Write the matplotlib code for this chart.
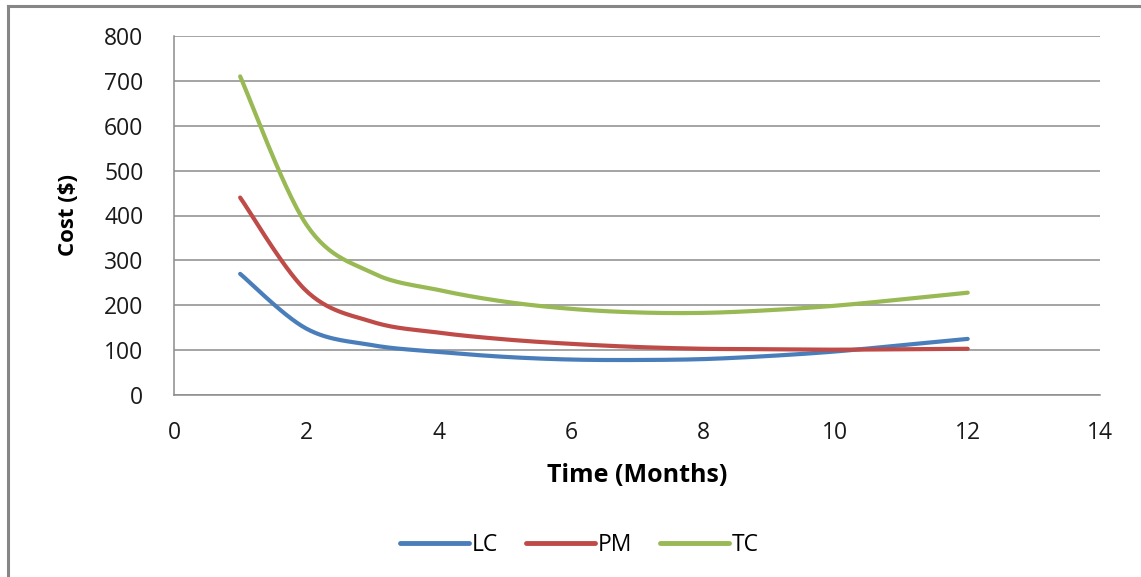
import numpy as np
import matplotlib
matplotlib.use('Agg')
import matplotlib.pyplot as plt
from matplotlib.lines import Line2D

plt.rcParams['font.family'] = ['Open Sans', 'DejaVu Sans']

months = [1, 2, 3, 4, 5, 6, 7, 8, 9, 10, 11, 12]
lc = [270, 148, 111, 96, 85, 79, 78, 80, 87, 97, 111, 125]
pm = [440, 232, 163, 139, 124, 114, 107, 103, 102, 101, 102, 103]
tc = [710, 380, 272, 234, 208, 192, 184, 183, 189, 199, 213, 228]

series_names = ['LC', 'PM', 'TC']
series_colors = ['#4A7EBB', '#BE4B48', '#98B954']


def smooth(xs, ys, steps=30):
    # bezier smoothing through every point, like spreadsheet "smoothed line"
    x = np.asarray(xs, float)
    y = np.asarray(ys, float)
    px = np.concatenate([[x[0]], x, [x[-1]]])
    py = np.concatenate([[y[0]], y, [y[-1]]])
    out_x, out_y = [], []
    t = np.linspace(0, 1, steps)
    for i in range(1, len(x)):
        p0 = np.array([px[i], py[i]])
        p3 = np.array([px[i + 1], py[i + 1]])
        c1 = p0 + (p3 - np.array([px[i - 1], py[i - 1]])) / 6
        c2 = p3 - (np.array([px[i + 2], py[i + 2]]) - p0) / 6
        pts = ((1 - t)[:, None] ** 3 * p0 + 3 * ((1 - t) ** 2 * t)[:, None] * c1
               + 3 * ((1 - t) * t ** 2)[:, None] * c2 + (t ** 3)[:, None] * p3)
        out_x.extend(pts[:, 0])
        out_y.extend(pts[:, 1])
    return out_x, out_y


fig = plt.figure(figsize=(11.41, 5.77), dpi=100)
ax = fig.add_axes([174 / 1141, 182 / 577, 926 / 1141, 359 / 577])

for vals, color in zip([lc, pm, tc], series_colors):
    sx, sy = smooth(months, vals)
    ax.plot(sx, sy, color=color, lw=3.0, solid_capstyle='round')

ax.set_xlim(0, 14)
ax.set_ylim(0, 800)
ax.set_xticks(range(0, 15, 2))
ax.set_yticks(range(0, 801, 100))
ax.grid(axis='y', color='#8c8c8c', lw=1.1)
ax.set_axisbelow(True)
for side in ['top', 'right']:
    ax.spines[side].set_visible(False)
for side in ['left', 'bottom']:
    ax.spines[side].set_color('#8c8c8c')
    ax.spines[side].set_linewidth(1.1)
ax.tick_params(length=0, labelsize=16.5, colors='#1a1a1a')
ax.tick_params(axis='x', pad=19)
ax.tick_params(axis='y', pad=22)

ax.set_xlabel('Time (Months)', fontsize=18, fontweight='bold')
ax.xaxis.set_label_coords(0.5, -0.19)
ax.set_ylabel('Cost ($)', fontsize=16, fontweight='bold')
ax.yaxis.set_label_coords(-0.103, 0.5)

handles = [Line2D([], [], color=c, lw=3.5, solid_capstyle='round') for c in series_colors]
fig.legend(handles, series_names, loc='center', bbox_to_anchor=(0.508, 32 / 577),
           ncol=3, frameon=False, fontsize=16.5, handlelength=3.0,
           handletextpad=0.15, columnspacing=1.2)

# outer chart frame
fig.add_artist(Line2D([8 / 1141, 8 / 1141], [0, 571 / 577], color='#868686', lw=2.2))
fig.add_artist(Line2D([8 / 1141, 1], [571 / 577, 571 / 577], color='#868686', lw=2.2))

fig.savefig('out.png', dpi=100)
